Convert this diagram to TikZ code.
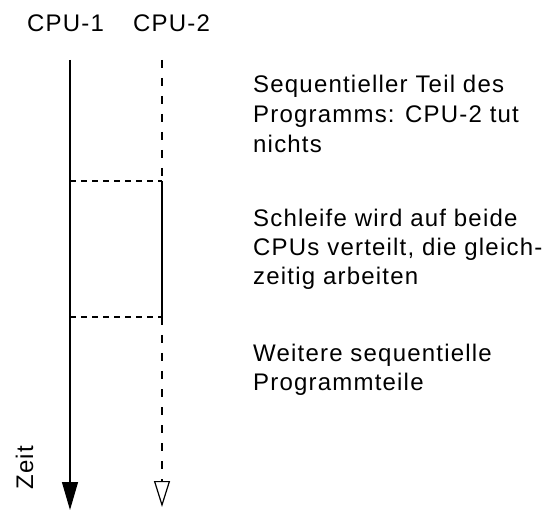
\documentclass[tikz,border=0pt]{standalone}
\usepackage{fontspec}
\setmainfont{Liberation Sans}[LetterSpace=5]
\usetikzlibrary{arrows.meta}
\begin{document}
\begin{tikzpicture}[x=1pt,y=-1pt,
  lbl/.style={inner sep=0pt,font=\fontsize{24}{29}\selectfont},
  txt/.style={lbl,anchor=base west},
  axis/.style={line width=1.2pt},
  vdash/.style={axis,dash pattern=on 8pt off 10pt},
  hdash/.style={axis,dash pattern=on 6pt off 5pt}]
\useasboundingbox (0,0) rectangle (546,510);
% labels
\node[txt] (c1) at (27,32) {CPU-1};
\node[txt] (c2) at (133,32) {CPU-2};
% coordinates
\coordinate (a1) at (70,60);
\coordinate (a2) at (70,181);
\coordinate (a3) at (70,317);
\coordinate (a4) at (70,510);
\coordinate (b1) at (162,60);
\coordinate (b2) at (162,181);
\coordinate (b3) at (162,317);
\coordinate (b4) at (162,507);
% CPU-1 time line
\draw[axis,-{Triangle[width=16pt,length=28pt]}] (a1) -- (a4);
% CPU-2 time line
\draw[vdash] (b1) -- (b2);
\draw[axis] (b2) -- (b3);
\draw[vdash,-{Triangle[open,width=16pt,length=26pt]}] (b3) -- (b4);
% horizontal separators
\draw[hdash] (a2) -- (b2);
\draw[hdash] (a3) -- (b3);
% Zeit
\node[lbl,rotate=90,anchor=base west] (zeit) at (33,490) {Zeit};
% descriptions
\node[txt] (t1a) at (253,93) {Sequentieller Teil des};
\node[txt] (t1b) at (253,123) {Programms: CPU-2 tut};
\node[txt] (t1c) at (253,153) {nichts};
\node[txt] (t2a) at (253,227) {Schleife wird auf beide};
\node[txt] (t2b) at (253,256) {CPUs verteilt, die gleich-};
\node[txt] (t2c) at (253,285) {zeitig arbeiten};
\node[txt] (t3a) at (253,362) {Weitere sequentielle};
\node[txt] (t3b) at (253,391) {Programmteile};
\end{tikzpicture}
\end{document}
